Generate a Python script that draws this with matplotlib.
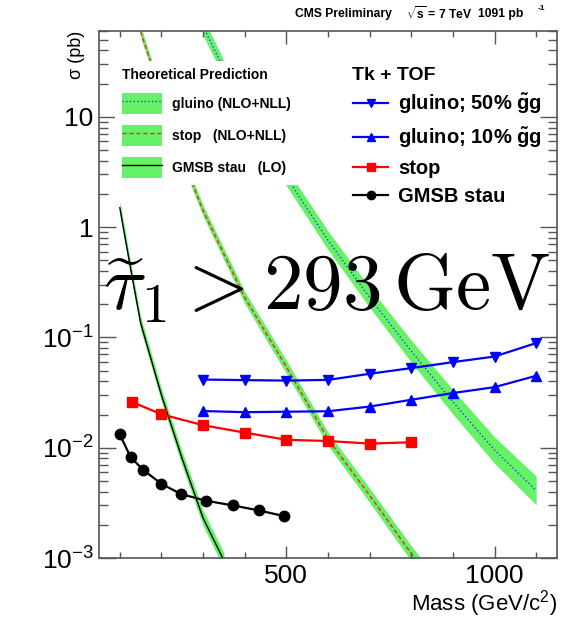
import numpy as np
import matplotlib
matplotlib.use("Agg")
import matplotlib.pyplot as plt
from matplotlib.lines import Line2D
from matplotlib.patches import Patch
from matplotlib.legend_handler import HandlerTuple
from matplotlib.ticker import FixedLocator, FuncFormatter, LogLocator, NullFormatter

plt.rcParams["font.family"] = ["Liberation Sans", "DejaVu Sans"]
plt.rcParams["mathtext.fontset"] = "custom"
plt.rcParams["mathtext.rm"] = "Liberation Sans"
plt.rcParams["mathtext.it"] = "Liberation Sans:italic"
plt.rcParams["mathtext.bf"] = "Liberation Sans:bold"

# measured limits (Tk + TOF)
gluino_mass = [300, 400, 500, 600, 700, 800, 900, 1000, 1100]
gluino_50 = [0.0415, 0.041, 0.0406, 0.0412, 0.0468, 0.0527, 0.0597, 0.0671, 0.0889]
gluino_10 = [0.0215, 0.021, 0.0212, 0.0214, 0.0236, 0.0272, 0.0313, 0.0354, 0.0449]
stop_mass = [130, 200, 300, 400, 500, 600, 700, 800]
stop_xsec = [0.0259, 0.0201, 0.0160, 0.0137, 0.0118, 0.0115, 0.0109, 0.0112]
stau_mass = [100, 126, 156, 200, 247, 308, 371, 434, 494]
stau_xsec = [0.0132, 0.0082, 0.0063, 0.0047, 0.0038, 0.0033, 0.0030, 0.0027, 0.0024]

# theory predictions and band half-widths (in decades)
gluino_th_mass = [300, 350, 400, 500, 600, 700, 800, 900, 1000, 1100]
gluino_th_xsec = [66, 27, 12.9, 2.85, 0.76, 0.23, 0.075, 0.026, 0.0095, 0.0041]
gluino_th_err = [0.08, 0.08, 0.08, 0.08, 0.085, 0.09, 0.1, 0.11, 0.12, 0.13]
stop_th_mass = [150, 200, 250, 300, 400, 500, 600, 700, 800, 820]
stop_th_xsec = [59, 15.8, 4.2, 1.41, 0.23, 0.054, 0.012, 0.0037, 0.0011, 0.00088]
stop_th_err = [0.05, 0.05, 0.05, 0.05, 0.055, 0.06, 0.06, 0.065, 0.07, 0.07]
stau_th_mass = [100, 125, 150, 200, 250, 300, 350]
stau_th_xsec = [1.5, 0.44, 0.135, 0.03, 0.0079, 0.0023, 0.00095]
stau_th_err = [0.06, 0.06, 0.06, 0.06, 0.065, 0.07, 0.07]

GREEN = "#66f266"
FRAME = "#555555"

W, H = 565, 618
fig = plt.figure(figsize=(W / 100, H / 100), dpi=100)
ax = fig.add_axes([99 / W, 1 - 558 / H, (557 - 99) / W, (558 - 31) / H])


def band(mass, xsec, err, line_kw):
    m = np.array(mass)
    x = np.array(xsec)
    e = np.array(err)
    ax.fill_between(m, x * 10 ** -e, x * 10 ** e, color=GREEN, lw=0, zorder=1)
    ax.plot(m, x, zorder=2, **line_kw)


band(gluino_th_mass, gluino_th_xsec, gluino_th_err, dict(color="#3333ff", ls=":", lw=1.0))
band(stop_th_mass, stop_th_xsec, stop_th_err, dict(color="#ff2020", ls=(0, (3, 2)), lw=1.0))
band(stau_th_mass, stau_th_xsec, stau_th_err, dict(color="black", lw=1.0))

ax.plot(gluino_mass, gluino_50, color="#0000ff", marker="v", ms=7.5, lw=1.6, zorder=3)
ax.plot(gluino_mass, gluino_10, color="#0000ff", marker="^", ms=7.5, lw=1.6, zorder=3)
ax.plot(stop_mass, stop_xsec, color="#ff0000", marker="s", ms=7.5, lw=1.6, zorder=3)
ax.plot(stau_mass, stau_xsec, color="black", marker="o", ms=7.5, lw=1.6, zorder=3)

ax.set_yscale("log")
ax.set_xlim(50, 1150)
ax.set_ylim(1e-3, 60)

ax.xaxis.set_major_locator(FixedLocator([500, 1000]))
ax.xaxis.set_minor_locator(FixedLocator(list(range(100, 1200, 100))))
ax.yaxis.set_major_locator(LogLocator(base=10))
ax.yaxis.set_minor_locator(LogLocator(base=10, subs=range(2, 10)))
ax.yaxis.set_minor_formatter(NullFormatter())


def ylab(v, pos):
    e = int(round(np.log10(v)))
    if e == 1:
        return "10"
    if e == 0:
        return "1"
    return r"10$^{\mathrm{-%d}}$" % (-e)


ax.yaxis.set_major_formatter(FuncFormatter(ylab))

for s in ax.spines.values():
    s.set_color(FRAME)
    s.set_linewidth(1.2)
ax.tick_params(which="both", direction="in", top=True, right=True, color=FRAME, width=1.0)
ax.tick_params(axis="y", which="major", length=12, labelsize=19, pad=4)
ax.tick_params(axis="y", which="minor", length=6.5)
ax.tick_params(axis="x", which="major", length=9, labelsize=19, pad=4)
ax.tick_params(axis="x", which="minor", length=4.5)

ax.set_ylabel("σ (pb)", fontsize=13, loc="top")
ax.yaxis.set_label_coords(-0.03, 1.0)
ax.set_xlabel("Mass (GeV/c$^{2}$)", fontsize=16, loc="right")
ax.xaxis.set_label_coords(1.0, -0.057)

# theory legend
th_handles = [
    (Patch(facecolor=GREEN, edgecolor="none"), Line2D([], [], color="#3333ff", ls=":", lw=1.0)),
    (Patch(facecolor=GREEN, edgecolor="none"), Line2D([], [], color="#ff2020", ls=(0, (3, 2)), lw=1.0)),
    (Patch(facecolor=GREEN, edgecolor="none"), Line2D([], [], color="black", lw=1.0)),
]
th_labels = ["gluino (NLO+NLL)", "stop   (NLO+NLL)", "GMSB stau   (LO)"]
leg1 = ax.legend(
    th_handles, th_labels, handler_map={tuple: HandlerTuple(ndivide=1, pad=0)},
    loc="upper left", bbox_to_anchor=(115 / W, 1 - 61 / H), bbox_transform=fig.transFigure,
    prop={"weight": "bold", "size": 10}, title="Theoretical Prediction",
    title_fontproperties={"weight": "bold", "size": 10}, alignment="left",
    handlelength=2.9, handleheight=1.95, handletextpad=0.72, labelspacing=0.8,
    borderpad=0.5, borderaxespad=0, facecolor="white", edgecolor="none", framealpha=1,
    fancybox=False,
)
ax.add_artist(leg1)

data_handles = [
    Line2D([], [], color="#0000ff", marker="v", ms=6, lw=1.6),
    Line2D([], [], color="#0000ff", marker="^", ms=6, lw=1.6),
    Line2D([], [], color="#ff0000", marker="s", ms=6, lw=1.6),
    Line2D([], [], color="black", marker="o", ms=6, lw=1.6),
]
data_labels = [r"gluino; 50% $\mathbf{\tilde{g}g}$", r"gluino; 10% $\mathbf{\tilde{g}g}$", "stop", "GMSB stau"]
ax.legend(
    data_handles, data_labels, loc="upper left", bbox_to_anchor=(347 / W, 1 - 86 / H),
    bbox_transform=fig.transFigure, prop={"weight": "bold", "size": 14.5},
    handlelength=1.75, handletextpad=0.5, labelspacing=0.45, borderpad=0.3,
    borderaxespad=0, frameon=False,
)
fig.text(352 / W, 1 - 75 / H, "Tk + TOF", fontsize=14, weight="bold", va="center")

fig.text(295 / W, 1 - 14 / H, "CMS Preliminary", fontsize=8.7, weight="bold", va="center")
fig.text(406 / W, 1 - 14 / H, r"$\sqrt{\mathbf{s}}$ = 7 TeV", fontsize=8.7, weight="bold", va="center")
fig.text(478 / W, 1 - 14 / H, "1091 pb", fontsize=8.7, weight="bold", va="center")
fig.text(538 / W, 1 - 8 / H, "-1", fontsize=6, weight="bold", va="center")

fig.text(103 / W, 1 - 310 / H, r"$\widetilde{\tau}_1 > 293\,\mathrm{GeV}$", fontsize=57,
         math_fontfamily="cm", va="baseline", ha="left")

fig.savefig("out.png", dpi=100)
